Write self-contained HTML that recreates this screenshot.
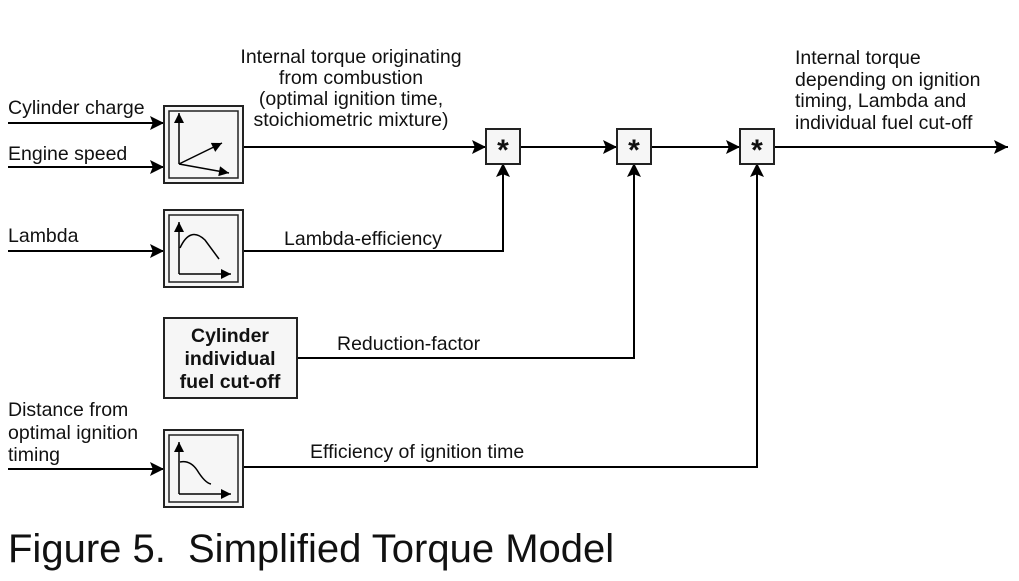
<!DOCTYPE html>
<html><head><meta charset="utf-8"><style>
html,body{margin:0;padding:0;background:#fff;}
svg text{font-family:"Liberation Sans",Arial,sans-serif;fill:#111;}
</style></head><body>
<svg width="1019" height="576" viewBox="0 0 1019 576" xmlns="http://www.w3.org/2000/svg">
<defs>
<marker id="a" viewBox="0 0 10 10" refX="10" refY="5" markerWidth="24" markerHeight="14" markerUnits="userSpaceOnUse" orient="auto"><path d="M0,0 L10,5 L0,10 L2,5 z" fill="#000"/></marker>
<marker id="s" viewBox="0 0 10 10" refX="10" refY="5" markerWidth="13" markerHeight="10" markerUnits="userSpaceOnUse" orient="auto"><path d="M0,0 L10,5 L0,10 z" fill="#000"/></marker>
</defs>
<g stroke="#000" stroke-width="2" fill="none">
<line x1="8" y1="123" x2="164" y2="123" marker-end="url(#a)"/>
<line x1="8" y1="167" x2="164" y2="167" marker-end="url(#a)"/>
<line x1="8" y1="251" x2="164" y2="251" marker-end="url(#a)"/>
<line x1="8" y1="469" x2="164" y2="469" marker-end="url(#a)"/>
<line x1="243" y1="147" x2="486" y2="147" marker-end="url(#a)"/>
<line x1="520" y1="147" x2="617" y2="147" marker-end="url(#a)"/>
<line x1="651" y1="147" x2="740" y2="147" marker-end="url(#a)"/>
<line x1="774" y1="147" x2="1008" y2="147" marker-end="url(#a)"/>
<polyline points="243,251 503,251 503,163" marker-end="url(#a)"/>
<polyline points="297,358 634,358 634,163" marker-end="url(#a)"/>
<polyline points="243,467 757,467 757,163" marker-end="url(#a)"/>
</g>
<g stroke="#222" stroke-width="2" fill="#f6f6f6">
<rect x="164" y="106" width="79" height="77"/>
<rect x="164" y="210" width="79" height="77"/>
<rect x="164" y="430" width="79" height="77"/>
<rect x="164" y="318" width="133" height="80"/>
<rect x="486" y="129" width="34" height="35"/>
<rect x="617" y="129" width="34" height="35"/>
<rect x="740" y="129" width="34" height="35"/>
</g>
<g stroke="#222" stroke-width="1.5" fill="none">
<rect x="169" y="111" width="69" height="67"/>
<rect x="169" y="215" width="69" height="67"/>
<rect x="169" y="435" width="69" height="67"/>
</g>
<g stroke="#000" stroke-width="1.5" fill="none">
<line x1="179" y1="164" x2="179" y2="113" marker-end="url(#s)"/>
<line x1="179" y1="164" x2="222" y2="143" marker-end="url(#s)"/>
<line x1="179" y1="164" x2="229" y2="173" marker-end="url(#s)"/>
<line x1="179" y1="274" x2="179" y2="222" marker-end="url(#s)"/>
<line x1="179" y1="274" x2="231" y2="274" marker-end="url(#s)"/>
<path d="M180,248 Q190,226 205,240 L219,259"/>
<line x1="179" y1="494" x2="179" y2="442" marker-end="url(#s)"/>
<line x1="179" y1="494" x2="231" y2="494" marker-end="url(#s)"/>
<path d="M180,462 Q190,460 197,470 Q205,483 211,484"/>
</g>
<g font-size="30" text-anchor="middle" font-weight="bold">
<text x="503" y="160">*</text><text x="634" y="160">*</text><text x="757" y="160">*</text>
</g>
<g font-size="19.5">
<text x="8" y="114">Cylinder charge</text>
<text x="8" y="160">Engine speed</text>
<text x="8" y="242">Lambda</text>
<text x="8" y="416">Distance from</text>
<text x="8" y="439">optimal ignition</text>
<text x="8" y="461">timing</text>
<text x="284" y="245">Lambda-efficiency</text>
<text x="337" y="350">Reduction-factor</text>
<text x="310" y="458">Efficiency of ignition time</text>
<g text-anchor="middle">
<text x="351" y="63">Internal torque originating</text>
<text x="351" y="84">from combustion</text>
<text x="351" y="105">(optimal ignition time,</text>
<text x="351" y="126">stoichiometric mixture)</text>
</g>
<text x="795" y="64">Internal torque</text>
<text x="795" y="86">depending on ignition</text>
<text x="795" y="107">timing, Lambda and</text>
<text x="795" y="129">individual fuel cut-off</text>
<g text-anchor="middle" font-weight="bold">
<text x="230" y="342">Cylinder</text>
<text x="230" y="365">individual</text>
<text x="230" y="388">fuel cut-off</text>
</g>
</g>
<text x="8" y="562" font-size="40">Figure 5.</text>
<text x="188" y="562" font-size="40">Simplified Torque Model</text>
</svg>
</body></html>
